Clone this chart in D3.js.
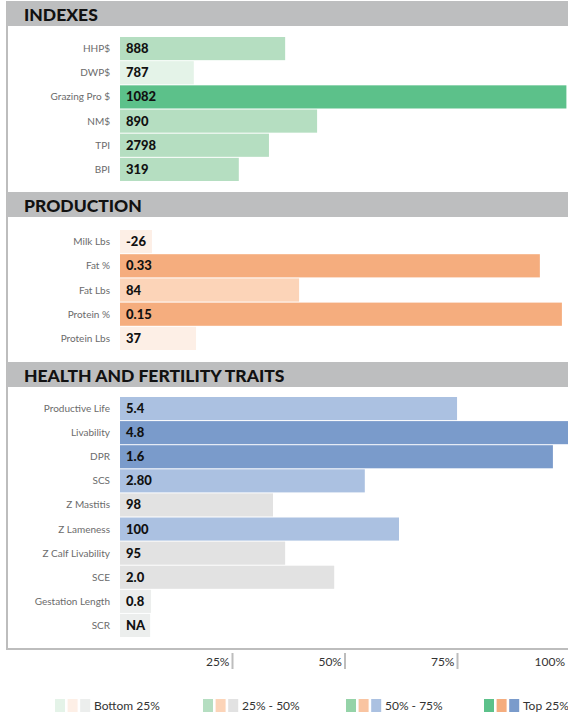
<!DOCTYPE html>
<html>
<head>
<meta charset="utf-8">
<script src="https://cdn.jsdelivr.net/npm/d3@7"></script>
<style>
  body { margin: 0; background: #fff; }
  svg { display: block; font-family: "Lato", "Open Sans", sans-serif; }
</style>
</head>
<body>
<div id="chart"></div>
<script>
// section data: trait names, displayed values, percentile rank (bar length)
var indexTraits = ["HHP$", "DWP$", "Grazing Pro $", "NM$", "TPI", "BPI"];
var indexValues = ["888", "787", "1082", "890", "2798", "319"];
var indexPct = [36.7, 16.4, 99.2, 43.8, 33.1, 26.4];

var prodTraits = ["Milk Lbs", "Fat %", "Fat Lbs", "Protein %", "Protein Lbs"];
var prodValues = ["-26", "0.33", "84", "0.15", "37"];
var prodPct = [7.1, 93.3, 39.8, 98.2, 16.9];

var healthTraits = ["Productive Life", "Livability", "DPR", "SCS", "Z Mastitis", "Z Lameness",
  "Z Calf Livability", "SCE", "Gestation Length", "SCR"];
var healthValues = ["5.4", "4.8", "1.6", "2.80", "98", "100", "95", "2.0", "0.8", "NA"];
var healthPct = [74.9, 100, 96.2, 54.4, 34.0, 62.0, 36.7, 47.6, 6.9, 6.7];

var tickLabels = ["25%", "50%", "75%", "100%"];
var legendLabels = ["Bottom 25%", "25% - 50%", "50% - 75%", "Top 25%"];

// colours per quartile for each section
var greens = ["#e4f3e8", "#b5dec1", "#95d3a8", "#5cc18a"];
var oranges = ["#fdefe6", "#fcd4b8", "#f9c4a1", "#f5ad7e"];
var blues = ["#eceeed", "#e2e2e2", "#abc1e1", "#7a9bcb"];

var width = 568, height = 715;

var svg = d3.select("#chart").append("svg")
  .attr("width", width)
  .attr("height", height);

var x = d3.scaleLinear().domain([0, 100]).range([120, 570]);

function quartile(p) {
  return d3.scaleThreshold().domain([25, 50, 75]).range([0, 1, 2, 3])(p);
}

var sections = [
  { title: "INDEXES", top: 1, first: 37, traits: indexTraits, values: indexValues, pct: indexPct, colors: greens },
  { title: "PRODUCTION", top: 192, first: 230, traits: prodTraits, values: prodValues, pct: prodPct, colors: oranges },
  { title: "HEALTH AND FERTILITY TRAITS", top: 362, first: 397, traits: healthTraits, values: healthValues, pct: healthPct, colors: blues }
];

// left frame line
svg.append("rect")
  .attr("x", 6).attr("y", 1)
  .attr("width", 2).attr("height", 648)
  .attr("fill", "#bdbdbd");

sections.forEach(function(s) {
  // header band
  svg.append("rect")
    .attr("x", 7).attr("y", s.top)
    .attr("width", width - 7).attr("height", 25)
    .attr("fill", "#bdbebf");
  svg.append("text")
    .attr("x", 24).attr("y", s.top + 19.5)
    .attr("font-size", 17.5)
    .attr("font-weight", 900)
    .attr("fill", "#111")
    .text(s.title);

  var rows = s.traits.map(function(t, i) {
    return { trait: t, value: s.values[i], pct: s.pct[i] };
  });

  var y = d3.scaleBand()
    .domain(s.traits)
    .range([s.first, s.first + s.traits.length * 24])
    .paddingInner(1 / 24)
    .paddingOuter(0);

  var g = svg.append("g");

  g.selectAll("rect.bar")
    .data(rows)
    .enter().append("rect")
    .attr("class", "bar")
    .attr("x", x(0))
    .attr("y", function(d) { return y(d.trait); })
    .attr("width", function(d) { return x(d.pct) - x(0); })
    .attr("height", y.bandwidth())
    .attr("fill", function(d) { return s.colors[quartile(d.pct)]; });

  g.selectAll("text.val")
    .data(rows)
    .enter().append("text")
    .attr("class", "val")
    .attr("x", x(0) + 6)
    .attr("y", function(d) { return y(d.trait) + y.bandwidth() / 2 + 4.5; })
    .attr("font-size", 13)
    .attr("font-weight", 900)
    .attr("fill", "#111")
    .text(function(d) { return d.value; });

  g.selectAll("text.lab")
    .data(rows)
    .enter().append("text")
    .attr("class", "lab")
    .attr("x", 110)
    .attr("y", function(d) { return y(d.trait) + y.bandwidth() / 2 + 3.5; })
    .attr("text-anchor", "end")
    .attr("font-size", 10)
    .attr("fill", "#6b6b6b")
    .text(function(d) { return d.trait; });
});

// bottom axis
svg.append("rect")
  .attr("x", 6).attr("y", 648)
  .attr("width", width - 6).attr("height", 2)
  .attr("fill", "#bdbdbd");

var ticks = svg.append("g").selectAll("g")
  .data(tickLabels)
  .enter().append("g")
  .attr("transform", function(d, i) { return "translate(" + x((i + 1) * 25) + ",0)"; });

ticks.append("rect")
  .attr("x", -1).attr("y", 653)
  .attr("width", 2).attr("height", 16)
  .attr("fill", "#bdbdbd");

ticks.append("text")
  .attr("x", function(d, i) { return i === 3 ? -5 : -3; })
  .attr("y", 666)
  .attr("text-anchor", "end")
  .attr("font-size", 12)
  .attr("fill", "#333")
  .text(function(d) { return d; });

// legend
var legendX = [55, 203, 346, 484];
var legend = svg.append("g").selectAll("g")
  .data(legendLabels)
  .enter().append("g")
  .attr("transform", function(d, i) { return "translate(" + legendX[i] + ",699)"; });

[greens, oranges, blues].forEach(function(pal, j) {
  legend.append("rect")
    .attr("x", j * 12.6)
    .attr("y", 0)
    .attr("width", 10)
    .attr("height", 13)
    .attr("fill", function(d, i) { return pal[i]; });
});

legend.append("text")
  .attr("x", 39)
  .attr("y", 11)
  .attr("font-size", 12)
  .attr("fill", "#333")
  .text(function(d) { return d; });
</script>
</body>
</html>
